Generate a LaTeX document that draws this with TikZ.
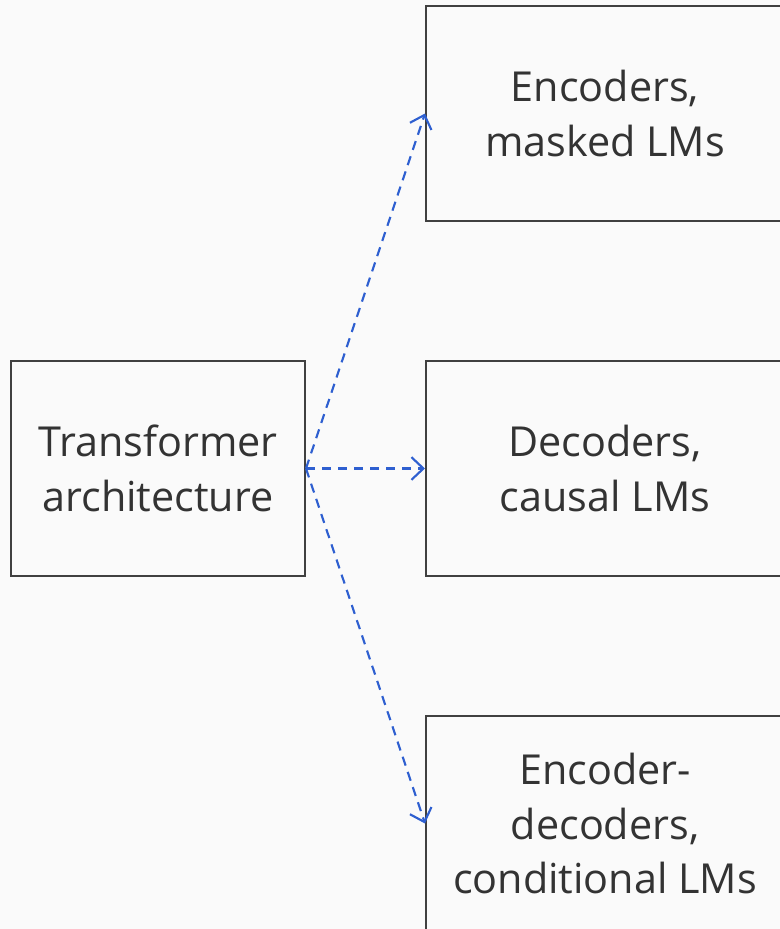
\documentclass[tikz,border=0pt]{standalone}
\usepackage{fontspec}
\setmainfont{Open Sans}
\usepackage{tikz}
\usetikzlibrary{arrows.meta}

\definecolor{bgcol}{RGB}{250,250,250}
\definecolor{boxcol}{RGB}{64,64,64}
\definecolor{txtcol}{RGB}{51,51,51}
\definecolor{arrcol}{RGB}{46,95,208}

\begin{document}
\begin{tikzpicture}[x=0.75pt,y=0.75pt,yscale=-1,xscale=1,
  box/.style={draw=boxcol,line width=1.5pt,fill=bgcol,text=txtcol,align=center,
    minimum height=161.25pt,inner sep=0pt,
    font=\fontsize{31}{41}\selectfont},
  link/.style={draw=arrcol,line width=1.6pt,dash pattern={on 7pt off 5pt},
    -{Straight Barb[length=9pt,width=17pt,line width=1.6pt]}}]
\useasboundingbox[fill=bgcol] (0,0) rectangle (780,929);

% Boxes
\node[box,minimum width=220.5pt] (trans) at (158,468.5) {Transformer\\architecture};
\begin{scope}
\clip (0,0) rectangle (780,929);
\node[box,minimum width=268.5pt] (enc) at (605,113.5) {Encoders,\\masked LMs};
\node[box,minimum width=268.5pt] (dec) at (605,468.5) {Decoders,\\causal LMs};
\node[box,minimum width=268.5pt] (encdec) at (605,823.5) {Encoder-\\decoders,\\conditional LMs};
\end{scope}

% Arrows
\draw[link] (trans.east) -- (enc.west);
\draw[link] (trans.east) -- (dec.west);
\draw[link] (trans.east) -- (encdec.west);

\end{tikzpicture}
\end{document}
